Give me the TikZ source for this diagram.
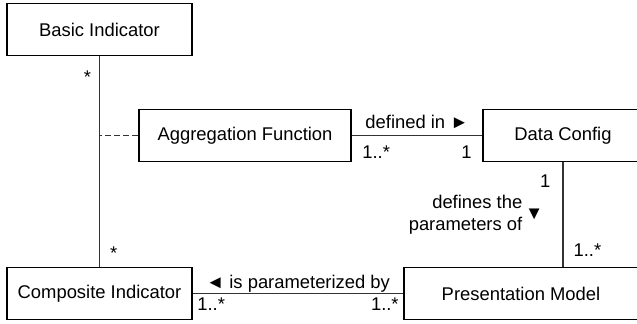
\documentclass[tikz,border=0pt]{standalone}
\usepackage{fontspec}
\setmainfont{Liberation Sans}
\usepackage{tikz}
\usetikzlibrary{positioning}
\tikzstyle{cls} =
  [rectangle, draw, line width=0.8pt, text centered, inner sep=0pt,
   minimum height=26pt]
\tikzstyle{assoc}=[draw,black!80,line width=0.55pt]
\tikzstyle{mult}=[inner sep=5pt]

\begin{document}
\begin{tikzpicture}[node distance = 132pt, font=\fontsize{9.2}{11}\selectfont]
  \useasboundingbox (0,0) rectangle (318.5pt,-161.5pt);
  \node [cls, minimum width=92.5pt] (bi) at (49.75pt,-14.75pt) {Basic Indicator};
  \node [cls, minimum width=92.5pt, below of=bi] (ci) {Composite Indicator};
  \node [cls, minimum width=106pt, below of=bi, node distance=53pt,
    xshift=72.75pt] (af) {Aggregation Function};
  \node [cls, minimum width=80pt, right of=af, node distance=159pt] (dc) {Data Config};
  \node [cls, minimum width=117pt, right of=ci, node distance=210.75pt]
    (pm) {Presentation Model};

  \draw [assoc] (bi) -- node [mult, black, pos=0.1, left, inner sep=4pt] (bistar) {*}
    node [mult, black, pos=0.934, right] (cistar) {*} (ci);
  \draw [assoc, dash pattern=on 3pt off 1.5pt] (af.west) -- (af.west -| bi.south);
  \draw [assoc] (af) -- node [above, black] (defin) {defined in ►}
    node [mult, black, at start, below right] (afmult) {1..*}
    node [mult, black, at end, below left] (dcone) {1} (dc);
  \draw [assoc] (dc.south) -- node [left, black, inner sep=0pt, xshift=-9.5pt] (deftri) {▼}
    node [mult, black, at start, below left, inner sep=6pt] (dctop) {1}
    node [mult, black, at end, above right] (pmtop) {1..*} (dc.south |- pm.north);
  \node [left=1pt of deftri, align=right, inner sep=0pt] (defpar)
    {defines the\\parameters of};
  \draw [assoc] (ci) -- node [above, black, inner sep=0.5pt] (param) {◄ is parameterized by}
    node [mult, black, at start, below right, inner sep=2pt] (cimult) {1..*}
    node [mult, black, at end, below left, inner sep=2pt] (pmmult) {1..*} (pm);

\end{tikzpicture}
\end{document}
